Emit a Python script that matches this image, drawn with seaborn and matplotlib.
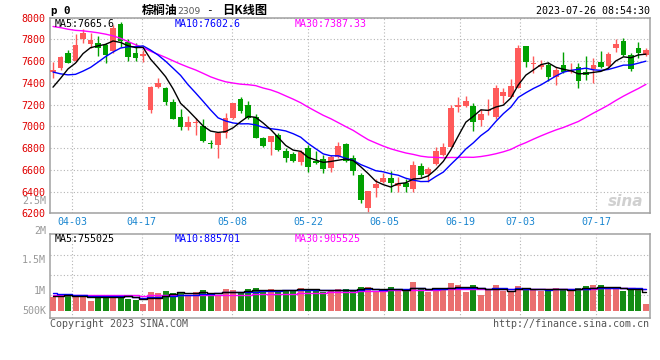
import numpy as np
import pandas as pd
import matplotlib
matplotlib.use("Agg")
import matplotlib.pyplot as plt
import seaborn as sns

# ---------------- data ----------------
open_ = [7497, 7533, 7677, 7604, 7800, 7760, 7765, 7746, 7692, 7936,
         7776, 7674, 7647, 7150, 7365, 7350, 7227, 7089, 6997, 7030,
         7003, 6842, 6828, 6942, 7080, 7251, 7196, 7083, 6896, 6859,
         6920, 6773, 6746, 6675, 6804, 6684, 6697, 6620, 6721, 6838,
         6706, 6553, 6246, 6430, 6491, 6528, 6454, 6476, 6420, 6635,
         6562, 6654, 6736, 6813, 7181, 7187, 7187, 7058, 7145, 7083,
         7279, 7273, 7356, 7739, 7570, 7549, 7564, 7450, 7564, 7497,
         7543, 7503, 7524, 7595, 7555, 7717, 7785, 7656, 7723, 7656]
high = [7589, 7646, 7700, 7846, 7895, 7860, 7830, 7763, 7935, 7962,
        7805, 7765, 7703, 7368, 7441, 7365, 7248, 7156, 7095, 7073,
        7064, 6874, 6936, 7120, 7212, 7273, 7233, 7110, 6900, 6911,
        6935, 6798, 6767, 6782, 6830, 6773, 6736, 6736, 6859, 6845,
        6736, 6568, 6405, 6513, 6568, 6590, 6537, 6513, 6681, 6660,
        6629, 6807, 6844, 7196, 7273, 7279, 7211, 7156, 7248, 7380,
        7350, 7432, 7748, 7739, 7647, 7610, 7595, 7549, 7684, 7580,
        7585, 7647, 7625, 7693, 7687, 7800, 7815, 7671, 7778, 7717]
low = [7441, 7515, 7580, 7590, 7770, 7718, 7643, 7579, 7670, 7733,
       7600, 7597, 7595, 7124, 7350, 7196, 7065, 6962, 6966, 6920,
       6860, 6798, 6706, 6890, 7070, 7126, 7070, 6890, 6810, 6736,
       6770, 6675, 6669, 6644, 6583, 6650, 6574, 6583, 6710, 6675,
       6553, 6298, 6215, 6347, 6476, 6399, 6393, 6393, 6399, 6537,
       6491, 6640, 6730, 6810, 7135, 7180, 6960, 7003, 7104, 7070,
       7218, 7265, 7350, 7549, 7487, 7530, 7420, 7380, 7487, 7490,
       7350, 7426, 7402, 7540, 7545, 7687, 7650, 7510, 7631, 7650]
close = [7518, 7634, 7585, 7748, 7855, 7791, 7716, 7655, 7905, 7785,
         7641, 7631, 7662, 7365, 7395, 7227, 7071, 6997, 7043, 7036,
         6868, 6835, 6936, 7080, 7212, 7144, 7080, 6896, 6819, 6911,
         6782, 6712, 6681, 6761, 6629, 6666, 6605, 6721, 6819, 6684,
         6592, 6323, 6405, 6470, 6528, 6482, 6476, 6445, 6644, 6553,
         6604, 6773, 6813, 7172, 7196, 7233, 7043, 7110, 7150, 7349,
         7319, 7371, 7717, 7595, 7585, 7564, 7450, 7518, 7503, 7518,
         7420, 7472, 7564, 7549, 7665, 7757, 7656, 7524, 7677, 7702]
# volume in thousands of lots
volume = [583, 659, 696, 583, 583, 414, 630, 630, 630, 630,
          499, 442, 282, 790, 743, 837, 743, 781, 659, 781,
          866, 659, 659, 903, 875, 781, 903, 950, 781, 903,
          866, 866, 866, 950, 903, 866, 790, 837, 903, 903,
          866, 988, 988, 837, 837, 988, 903, 837, 1195, 903,
          790, 950, 903, 1157, 1073, 790, 1073, 659, 866, 1073,
          837, 790, 1035, 950, 866, 837, 903, 950, 903, 837,
          950, 1035, 1073, 1073, 903, 903, 837, 903, 950, 282]
# closes / volumes before the visible window (estimated from the MA lines)
prior_close = [7950, 8020, 8060, 7990, 8040, 8000, 8030, 8380, 8470, 8540,
               8500, 8480, 8350, 8220, 8100, 8010, 7900, 7880, 7810, 7800,
               7800, 7680, 7700, 7560, 7450, 7230, 7150, 7480, 7420]
prior_volume = [580, 660, 550, 620, 700, 590, 640, 570, 610, 680,
                630, 560, 600, 670, 620, 650, 580, 660, 630, 640,
                860, 800, 880, 820, 840, 660, 600, 640, 620]

tick_labels = ["04-03", "04-17", "05-08", "05-22", "06-05", "06-19", "07-03", "07-17"]
price_ticks = [6200, 6400, 6600, 6800, 7000, 7200, 7400, 7600, 7800, 8000]

# ---------------- layout / style ----------------
tick_pos = [2.57, 11.82, 23.89, 33.97, 44.13, 54.26, 62.26, 72.38]
RED, GREEN = "#ff5a5a", "#00a000"
GRID = "#b4b4b4"
SPINE = "#a0a0a0"

sns.set_theme(style="white")
plt.rcParams['font.family'] = ['DejaVu Sans Mono', 'Noto Sans CJK SC']

W, H = 660, 360
fig = plt.figure(figsize=(W / 100, H / 100), dpi=100)
fig.patch.set_facecolor("white")

def rect(l, t, r, b):
    return [l / W, 1 - b / H, (r - l) / W, (b - t) / H]

def fx(px):
    return px / W

def fy(py):
    return 1 - py / H

ax = fig.add_axes(rect(50, 17.5, 650, 213.3))
axv = fig.add_axes(rect(50, 234.3, 650, 318))

n = len(close)
idx = np.arange(n)
df = pd.DataFrame(dict(i=idx, o=open_, h=high, l=low, c=close, v=volume))
df["dir"] = np.where(df.c >= df.o, "up", "down")
pal = {"up": RED, "down": GREEN}
cols = df["dir"].map(pal).values

# moving averages
allc = pd.Series(prior_close + close, dtype=float)
k = len(prior_close)
ma = {p: allc.rolling(p).mean().iloc[k:].values for p in (5, 10, 30)}
allv = pd.Series(prior_volume + volume, dtype=float)
kv = len(prior_volume)
mav = {p: allv.rolling(p).mean().iloc[kv:].values for p in (5, 10, 30)}

# ---------------- price panel ----------------
for a in (ax, axv):
    for s in a.spines.values():
        s.set_color(SPINE)
        s.set_linewidth(1.1)
    a.set_facecolor("white")

ax.set_xlim(-0.4, 79.54)
ax.set_ylim(6200, 8000)
ax.set_yticks(price_ticks)
ax.set_yticklabels([str(t) for t in price_ticks])
ax.set_xticks(tick_pos)
ax.set_xticklabels(tick_labels)
ax.grid(True, color=GRID, linestyle=(0, (1, 2)), linewidth=0.8)
ax.set_axisbelow(True)
ax.tick_params(axis="y", length=0, pad=3, labelsize=7.2, labelcolor="#e00000")
ax.tick_params(axis="x", length=0, pad=2.5, labelsize=7.2, labelcolor="#1a86d0")

ax.vlines(df.i, df.l, df.h, colors=cols, linewidth=1.0, zorder=2)
body_bottom = np.minimum(df.o, df.c)
body_h = np.maximum(np.abs(df.c - df.o), 8)
ax.bar(df.i, body_h, bottom=body_bottom, width=0.76, color=cols, linewidth=0, zorder=3)

sns.lineplot(x=idx, y=ma[30], ax=ax, color="#ff00ff", linewidth=1.0, zorder=4)
sns.lineplot(x=idx, y=ma[10], ax=ax, color="#0000ff", linewidth=1.0, zorder=4)
sns.lineplot(x=idx, y=ma[5], ax=ax, color="black", linewidth=1.0, zorder=5)
ax.set_xlabel("")
ax.set_ylabel("")

# ---------------- volume panel ----------------
sns.barplot(data=df, x="i", y="v", hue="dir", palette=pal, native_scale=True,
            dodge=False, width=0.8, errorbar=None, legend=False, linewidth=0,
            ax=axv, zorder=3)
sns.lineplot(x=idx, y=mav[30], ax=axv, color="#ff00ff", linewidth=1.0, drawstyle="steps-mid", zorder=4)
sns.lineplot(x=idx, y=mav[10], ax=axv, color="#0000ff", linewidth=1.0, drawstyle="steps-mid", zorder=4)
sns.lineplot(x=idx, y=mav[5], ax=axv, color="black", linewidth=1.0, drawstyle="steps-mid", zorder=5)
axv.set_xlim(-0.4, 79.54)
axv.set_ylim(-305, 3197)
axv.set_xticks(tick_pos)
axv.set_xticklabels([])
axv.set_yticks([])
axv.grid(True, axis="x", color=GRID, linestyle=(0, (1, 2)), linewidth=0.8)
for g in (657, 1481, 2318):
    axv.axhline(g, color=GRID, linestyle=(0, (1, 2)), linewidth=0.8, zorder=1)
axv.set_axisbelow(True)
axv.tick_params(length=0)
axv.set_xlabel("")
axv.set_ylabel("")

# ---------------- texts ----------------
mono = dict(family=["DejaVu Sans Mono"], size=7.2, va="center")
fig.text(fx(51), fy(11), "p 0", family=["DejaVu Sans Mono"], size=7.8,
         fontweight="bold", va="center", ha="left", color="black")
fig.text(fx(141.5), fy(10.5), "棕榈油", family=["Noto Sans CJK SC"], size=8.6,
         va="center", ha="left", color="black", fontweight="bold")
fig.text(fx(177.5), fy(11), "2309", family=["DejaVu Sans"], size=6.6,
         va="center", ha="left", color="#555555")
fig.text(fx(206), fy(10.5), "-", family=["DejaVu Sans Mono"], size=8,
         va="center", ha="left", color="black")
fig.text(fx(222.5), fy(10.5), "日K线图", family=["Noto Sans CJK SC", "DejaVu Sans"],
         size=8.8, va="center", ha="left", color="black", fontweight="bold")
fig.text(fx(649.5), fy(11.5), "2023-07-26 08:54:30", ha="right", color="black", **mono)

fig.text(fx(55), fy(24), "MA5:7665.6", ha="left", color="black", **mono)
fig.text(fx(175), fy(24), "MA10:7602.6", ha="left", color="#0000ff", **mono)
fig.text(fx(295), fy(24), "MA30:7387.33", ha="left", color="#ff00ff", **mono)

fig.text(fx(55), fy(238.5), "MA5:755025", ha="left", color="black", **mono)
fig.text(fx(175), fy(238.5), "MA10:885701", ha="left", color="#0000ff", **mono)
fig.text(fx(295), fy(238.5), "MA30:905525", ha="left", color="#ff00ff", **mono)

fig.text(fx(46), fy(201), "2.5M", ha="right", color="#999999", **mono)
for lab, py in (("2M", 230.7), ("1.5M", 260.3), ("1M", 290.7), ("500K", 310.7)):
    fig.text(fx(46), fy(py), lab, ha="right", color="#999999", **mono)

fig.text(fx(50), fy(324), "Copyright 2023 SINA.COM", ha="left", color="#555555", **mono)
fig.text(fx(649.5), fy(324), "http://finance.sina.com.cn", ha="right", color="#555555", **mono)

fig.text(fx(626), fy(202), "sina", ha="center", color="#d0d0d0", size=11,
         family=["DejaVu Sans"], fontweight="bold", style="italic", va="center")

fig.savefig("out.png", dpi=100, facecolor="white")
